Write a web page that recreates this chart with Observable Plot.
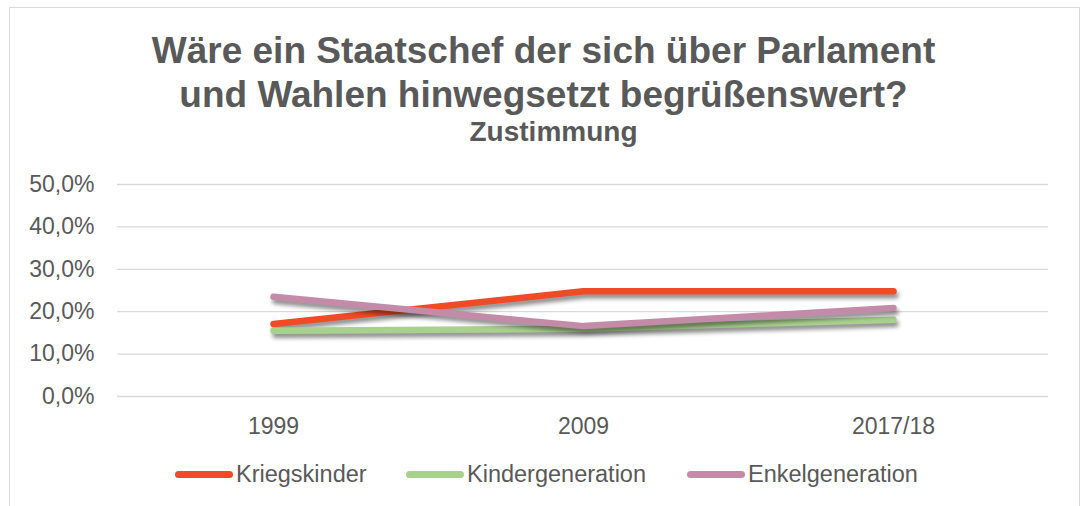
<!DOCTYPE html>
<html>
<head>
<meta charset="utf-8">
<script src="https://cdn.jsdelivr.net/npm/d3@7"></script>
<script src="https://cdn.jsdelivr.net/npm/@observablehq/plot@0.6"></script>
<style>
  html, body { margin: 0; padding: 0; background: #fff; width: 1083px; height: 506px; overflow: hidden; font-family: "Liberation Sans", Arial, sans-serif; }
  #frame { position: absolute; left: 9px; top: 7px; width: 1069px; height: 520px; border: 1.5px solid #d9d9d9; border-bottom: none; }
  #title { position: absolute; left: 2px; width: 1083px; top: 29px; text-align: center; color: #595959; font-weight: bold; font-size: 37px; line-height: 44px; white-space: nowrap; }
  #subtitle { position: absolute; left: 12px; width: 1083px; top: 116px; text-align: center; color: #595959; font-weight: bold; font-size: 28px; line-height: 32px; }
  #chart { position: absolute; left: 0; top: 160px; }
  #legend { position: absolute; left: 0; top: 460px; width: 1083px; height: 28px; }
  .item { position: absolute; top: 0; height: 28px; display: flex; align-items: center; font-size: 23.5px; color: #595959; }
  .sw { width: 58px; height: 7px; border-radius: 3.5px; display: inline-block; margin-right: 3px; }
</style>
</head>
<body>
<div id="frame"></div>
<div id="title">Wäre ein Staatschef der sich über Parlament<br>und Wahlen hinwegsetzt begrüßenswert?</div>
<div id="subtitle">Zustimmung</div>
<div id="chart"></div>
<div id="legend"></div>
<script>
const years = ["1999", "2009", "2017/18"];
const seriesNames = ["Kriegskinder", "Kindergeneration", "Enkelgeneration"];
const colors = ["#EE4B26", "#A9D18E", "#C48BA8"];
const kriegskinder = [17.1, 24.8, 24.8];
const kindergeneration = [15.5, 16.0, 18.1];
const enkelgeneration = [23.5, 16.6, 20.9];
const yTicks = [0, 10, 20, 30, 40, 50];

const valuesBySeries = [kriegskinder, kindergeneration, enkelgeneration];
const data = [];
seriesNames.forEach((s, i) => years.forEach((y, j) => data.push({series: s, year: y, value: valuesBySeries[i][j]})));

const fmt = d => d.toFixed(1).replace(".", ",") + "%";

const plot = Plot.plot({
  width: 1083,
  height: 290,
  marginLeft: 117,
  marginRight: 35,
  marginTop: 24,
  marginBottom: 54,
  style: { fontFamily: "Liberation Sans, Arial, sans-serif", fontSize: "23px", color: "#595959", background: "transparent", overflow: "visible" },
  x: { type: "band", domain: years, padding: 0, align: 0.5, label: null },
  y: { domain: [0, 50], label: null },
  color: { domain: seriesNames, range: colors },
  marks: [
    Plot.ruleY(yTicks, { stroke: "#d9d9d9", strokeWidth: 1.3 }),
    Plot.axisY({ ticks: yTicks, tickSize: 0, tickPadding: 23, tickFormat: fmt, label: null, fill: "#595959" }),
    Plot.axisX({ tickSize: 0, tickPadding: 21, label: null, fill: "#595959" }),
    Plot.line(data, { x: "year", y: "value", z: "series", stroke: "series", strokeWidth: 6.5, strokeLinecap: "round", strokeLinejoin: "round", curve: "linear" })
  ]
});
document.getElementById("chart").appendChild(plot);
d3.select(plot).selectAll("g[aria-label='line'] path").style("filter", "drop-shadow(2px 4px 2px rgba(0,0,0,0.45))");

const legendPos = [175, 406, 687];
const legend = d3.select("#legend");
seriesNames.forEach((s, i) => {
  const it = legend.append("div").attr("class", "item").style("left", legendPos[i] + "px");
  it.append("span").attr("class", "sw").style("background", colors[i]);
  it.append("span").text(s);
});
</script>
</body>
</html>
